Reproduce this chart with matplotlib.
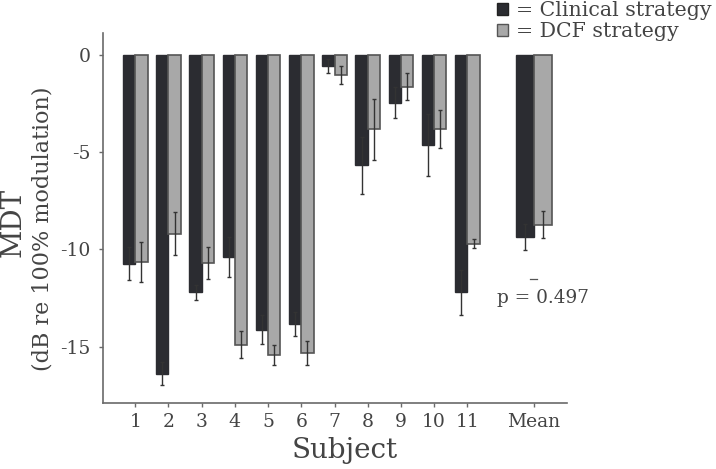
import matplotlib
matplotlib.use("Agg")
import matplotlib.pyplot as plt
from matplotlib.patches import Rectangle
import numpy as np

subjects = ["1", "2", "3", "4", "5", "6", "7", "8", "9", "10", "11"]
clinical = [-10.74, -16.39, -12.2, -10.4, -14.12, -13.83, -0.55, -5.67, -2.46, -4.64, -12.2]
clinical_err = [0.85, 0.58, 0.38, 1.03, 0.74, 0.6, 0.36, 1.46, 0.8, 1.58, 1.15]
dcf = [-10.65, -9.19, -10.7, -14.9, -15.43, -15.33, -1.03, -3.83, -1.63, -3.81, -9.71]
dcf_err = [1.05, 1.1, 0.8, 0.7, 0.5, 0.6, 0.45, 1.55, 0.7, 1.0, 0.22]
mean_label = "Mean"
mean_clinical = -9.36
mean_clinical_err = 0.66
mean_dcf = -8.73
mean_dcf_err = 0.7
p_text = "p = 0.497"
legend_labels = ["= Clinical strategy", "= DCF strategy"]

dark = "#2b2c31"
light = "#a8a8a8"
axcol = "#6a6a6a"
txtcol = "#444444"

plt.rcParams['font.family'] = ['DejaVu Serif']

W, H = 716, 469
fig = plt.figure(figsize=(W / 100, H / 100), dpi=100)
ax = fig.add_axes([103 / W, 1 - 403 / H, 464 / W, 370 / H])

x = np.arange(1, len(subjects) + 1)
w = 0.37
ekw = dict(elinewidth=1.0, ecolor="#333333", capsize=1.5, capthick=1.0)
ax.bar(x - w / 2, clinical, width=w, color=dark, edgecolor=dark, linewidth=1.0,
       yerr=clinical_err, error_kw=ekw, zorder=2)
ax.bar(x + w / 2, dcf, width=w, color=light, edgecolor="#555555", linewidth=1.2,
       yerr=dcf_err, error_kw=ekw, zorder=2)

xm = len(subjects) + 2
wm = 0.55
ax.bar([xm - wm / 2], [mean_clinical], width=wm, color=dark, edgecolor=dark, linewidth=1.0,
       yerr=[mean_clinical_err], error_kw=ekw, zorder=2)
ax.bar([xm + wm / 2], [mean_dcf], width=wm, color=light, edgecolor="#555555", linewidth=1.2,
       yerr=[mean_dcf_err], error_kw=ekw, zorder=2)

ax.set_xlim(0.03, 14.0)
ax.set_ylim(-17.9, 1.13)
ax.set_xticks(list(x) + [xm])
ax.set_xticklabels(subjects + [mean_label])
ax.set_yticks([0, -5, -10, -15])
ax.set_yticklabels(["0", "-5", "-10", "-15"])

for s in ["top", "right"]:
    ax.spines[s].set_visible(False)
for s in ["left", "bottom"]:
    ax.spines[s].set_color(axcol)
    ax.spines[s].set_linewidth(1.2)
ax.tick_params(axis="both", colors=axcol, labelcolor=txtcol, labelsize=13.5, length=3, width=1.0)
ax.tick_params(axis="x", pad=4)
ax.tick_params(axis="y", pad=6)

fig.text(345 / W, 1 - 450 / H, "Subject", fontsize=20, color=txtcol, ha="center", va="center")
fig.text(13 / W, 1 - 222 / H, "MDT", rotation=90, fontsize=20, color=txtcol, ha="center", va="center")
fig.text(43 / W, 1 - 229 / H, "(dB re 100% modulation)", rotation=90, fontsize=16, color=txtcol,
         ha="center", va="center")

# significance marker and p value
ax.plot([xm - 0.11, xm + 0.11], [-11.5, -11.5], color="#555555", lw=0.9)
ax.text(xm + 0.28, -12.5, p_text, fontsize=13.3, color=txtcol, ha="center", va="center")

# legend
for i, (fc, ec) in enumerate([(dark, "#222222"), (light, "#555555")]):
    yc = 9 + 21.5 * i
    fig.add_artist(Rectangle((497 / W, 1 - (yc + 6) / H), 11 / W, 12 / H,
                             transform=fig.transFigure, facecolor=fc, edgecolor=ec, lw=1.0))
    fig.text(516 / W, 1 - (yc + 1) / H, legend_labels[i], fontsize=14.8, color=txtcol,
             ha="left", va="center")

fig.savefig("out.png", dpi=100)
